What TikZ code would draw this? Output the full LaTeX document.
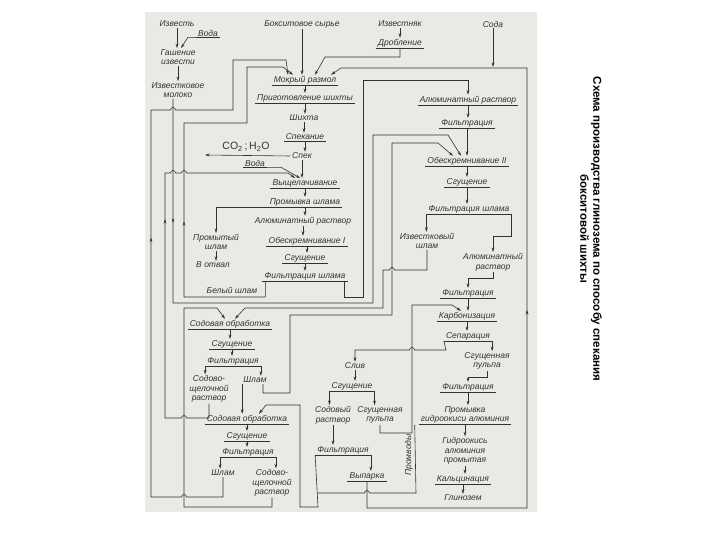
\documentclass[tikz,border=0pt]{standalone}
\usepackage{fontspec}
\newfontfamily\lbl{Liberation Sans}
\newfontfamily\ttl{Liberation Sans}
\usetikzlibrary{arrows.meta,decorations.markings}
\definecolor{ink}{RGB}{50,50,50}
\definecolor{scan}{RGB}{233,233,229}
\tikzset{
  ln/.style={draw=ink, line width=0.6pt},
  arr/.style={ln, ->},
  midarr/.style={postaction={decorate, decoration={markings, mark=at position #1 with {\arrow{>}}}}},
  lab/.style={font=\lbl\itshape\fontsize{8.5}{9.5}\selectfont, text=ink, inner xsep=2pt, inner ysep=1pt, align=center},
  ulab/.style={lab, append after command={(\tikzlastnode.south west) edge[ln] (\tikzlastnode.south east)}},
  gazlab/.style={lab, font=\lbl\fontsize{10.5}{11}\selectfont},
  ttlbox/.style={font=\ttl\bfseries\fontsize{11.5}{13}\selectfont, align=center, inner sep=0pt},
}
\begin{document}
\begin{tikzpicture}[x=1pt,y=-1pt,>={Stealth[length=4.5pt,width=2.8pt]}]
\useasboundingbox (0,0) rectangle (720,540);
\fill[scan] (145,12) rectangle (537,512);

% lime
\node[lab] (izv) at (177,24) {Известь};
\node[ulab] (voda1) at (208,33) {Вода};
\node[lab] (gash) at (178,57) {Гашение\\извести};
\node[lab] (mol) at (178,90) {Известковое\\молоко};

% main line
\node[lab] (boks) at (302,24) {Бокситовое сырье};
\node[ulab] (mr) at (305,80) {Мокрый размол};
\node[ulab] (prig) at (305,98) {Приготовление шихты};
\node[lab] (shikh) at (304,118) {Шихта};
\node[ulab] (spk) at (305,137) {Спекание};
\node[lab] (spek) at (302,156) {Спек};
\node[gazlab] (gaz) at (246,147) {CO\textsubscript{2}\,;\,H\textsubscript{2}O};
\coordinate (gazout) at (205,155);
\node[ulab] (voda2) at (255,163) {Вода};
\node[ulab] (vysh) at (305,183) {Выщелачивание};
\node[ulab] (prsh) at (305,202) {Промывка шлама};
\node[lab] (promsh) at (216,242) {Промытый\\шлам};
\node[lab] (otval) at (213,265) {В отвал};
\node[lab] (alr1) at (303,221) {Алюминатный раствор};
\node[ulab] (ob1) at (307,241) {Обескремнивание I};
\node[ulab] (sg1) at (305,258) {Сгущение};
\node[ulab] (fsh1) at (305,276) {Фильтрация шлама};
\node[lab] (bsh) at (232,290) {Белый шлам};

% soda treatment
\node[ulab] (so1) at (230,324) {Содовая обработка};
\node[ulab] (sg2) at (232,344) {Сгущение};
\node[ulab] (f2) at (233,361) {Фильтрация};
\node[lab] (ssr1) at (209,389) {Содово-\\щелочной\\раствор};
\node[lab] (shl1) at (255,380) {Шлам};
\node[ulab] (so2) at (247,419) {Содовая обработка};
\node[ulab] (sg3) at (247,436) {Сгущение};
\node[ulab] (f3) at (248,452) {Фильтрация};
\node[lab] (shl2) at (223,473) {Шлам};
\node[lab] (ssr2) at (272,483) {Содово-\\щелочной\\раствор};

% right part
\node[lab] (izvn) at (400,24) {Известняк};
\node[ulab] (drob) at (400,43) {Дробление};
\node[lab] (soda) at (493,24) {Сода};
\coordinate (sodain) at (493,67);
\node[ulab] (alr2) at (468,100) {Алюминатный раствор};
\node[ulab] (f4) at (467,123) {Фильтрация};
\node[ulab] (ob2) at (467,161) {Обескремнивание II};
\node[ulab] (sg4) at (467,182) {Сгущение};
\node[ulab] (fsh2) at (469,209) {Фильтрация шлама};
\node[lab] (ish) at (427,241) {Известковый\\шлам};
\node[lab] (alr3) at (493,262) {Алюминатный\\раствор};
\node[ulab] (f5) at (468,293) {Фильтрация};
\node[ulab] (karb) at (467,316) {Карбонизация};
\node[ulab] (sep) at (468,336) {Сепарация};
\node[lab] (sp1) at (487,361) {Сгущенная\\пульпа};
\node[lab] (sliv) at (355,366) {Слив};
\node[ulab] (sg5) at (352,386) {Сгущение};
\node[lab] (sodr) at (333,415) {Содовый\\раствор};
\node[lab] (sp2) at (380,415) {Сгущенная\\пульпа};
\node[ulab] (f6) at (468,387) {Фильтрация};
\node[ulab] (prg) at (465,415) {Промывка\\гидроокиси алюминия};
\node[lab] (gidr) at (465,451) {Гидроокись\\алюминия\\промытая};
\node[ulab] (kalc) at (463,479) {Кальцинация};
\node[lab] (gl) at (463,498) {Глинозем};
\node[ulab] (f7) at (343,450) {Фильтрация};
\node[ulab] (vyp) at (367,476) {Выпарка};
\node[lab, rotate=90] (promv) at (409,455) {Промводы};

\node[ttlbox, rotate=-90] (ttl) at (591,229) {Схема производства глинозема по способу спекания\\бокситовой шихты};

% lime
\draw[arr] (izv.south) -- (izv.south |- gash.north);
\draw[arr] (voda1.south west) -- ++(-8,0) -- ([xshift=3pt]gash.north);
\draw[arr] (gash.south) -- (gash.south |- mol.north);

% main line
\draw[arr] (boks.south) -- (boks.south |- mr.north);
\draw[arr] (mr.south) -- (mr.south |- prig.north);
\draw[arr] (prig.south) -- (prig.south |- shikh.north);
\draw[arr] (shikh.south) -- (shikh.south |- spk.north);
\draw[arr] (spk.south) -- (spk.south |- spek.north);
\draw[arr] (spek.west) -- (gazout);
\draw[arr] (spek.south) -- (spek.south |- vysh.north);
\draw[arr] (voda2.south east) -- ++(14,0) -- ([xshift=-5pt]vysh.north);
\draw[arr] (vysh.south) -- (vysh.south |- prsh.north);
\draw[arr] (prsh.south) -- (prsh.south |- alr1.north);
\draw[arr] (prsh.south) -| (promsh.north);
\draw[arr] (promsh.south) -- (promsh.south |- otval.north);
\draw[arr] (alr1.south) -- (alr1.south |- ob1.north);
\draw[arr] (ob1.south) -- (ob1.south |- sg1.north);
\draw[arr] (sg1.south) -- (sg1.south |- fsh1.north);

% white sludge to grinding
\draw[arr, midarr=173pt] ([xshift=3pt]fsh1.south west) |- (184,297) -- (184,123) -- (247,123) -- (247,67) -- (283,67) -- ([xshift=-12pt]mr.north);
% sludge of second soda treatment to grinding
\draw[arr, midarr=354pt] (shl2.south) -- (223,497) -- (186.5,497) arc[start angle=0,end angle=180,radius=2.5pt] -- (151,497) -- (151,110) -- (170.5,110) arc[start angle=180,end angle=0,radius=2.5pt] -- (233,110) -- (233,60) -- (286,60) -- ([xshift=-17pt]mr.north);
% soda-alkaline solution 1 to leaching
\draw[arr, midarr=260pt] (ssr1.south) -- (209,418) -- (186.5,418) arc[start angle=0,end angle=180,radius=2.5pt] -- (165,418) -- (165,173) -- (170.5,173) arc[start angle=180,end angle=0,radius=2.5pt] -- (181.5,173) arc[start angle=180,end angle=0,radius=2.5pt] -- (288,173) -- ([xshift=-10pt]vysh.north);
% soda-alkaline solution 2 to soda treatment 1
\draw[arr] (ssr2.south) -- (272,507) -- (184,507) -- (184,308) -- (217,308) -- ([xshift=-5pt]so1.north);
% lime milk to desilication II
\draw[arr, midarr=124pt] ([xshift=-5pt]mol.south) |- (373,303) -- (373,135) -- (448,135) -- ([xshift=-6pt]ob2.north);
% aluminate solution to the right
\draw[arr] ([xshift=-3pt]fsh1.south east) |- (363,297) -- (363,80) -| (alr2.north);
% lime sludge to soda treatment 1
\draw[arr] (ish.south) -- (427,270) -- (394.5,270) arc[start angle=0,end angle=180,radius=2.5pt] -- (383,270) -- (383,308) -- (245,308) -- ([xshift=5pt]so1.north);
% sludge 1
\draw[arr] ([xshift=8pt]shl1.south) |- (290,393) -- (290,315) -- (392,315) -- (392,143) -- (438,143) -- ([xshift=-14pt]ob2.north);
\draw[arr] ([xshift=1pt]shl1.south west) -- ([xshift=1pt]shl1.south west |- so2.north);

% soda treatment
\draw[arr] (so1.south) -- (so1.south |- sg2.north);
\draw[arr] (sg2.south) -- (sg2.south |- f2.north);
\draw[arr] (f2.south west) -- (f2.south west |- ssr1.north);
\draw[arr] (f2.south east) -- (f2.south east |- shl1.north);
\draw[arr] (so2.south) -- (so2.south |- sg3.north);
\draw[arr] (sg3.south) -- (sg3.south |- f3.north);
\draw[arr] (f3.south west) -- (f3.south west |- shl2.north);
\draw[arr] (f3.south east) -- (f3.south east |- ssr2.north);

% limestone, soda, return
\draw[arr] (izvn.south) -- (izvn.south |- drob.north);
\draw[arr] (drob.south) |- (325,57) -- ([xshift=10pt]mr.north);
\draw[arr] (soda.south) -- (sodain);
\draw[arr, midarr=385pt] (vyp.south) -- (367,508) -- (527,508) -- (527,68) -- (341,68) -- ([xshift=26pt]mr.north);

% right column
\draw[arr] (alr2.south) -- (alr2.south |- f4.north);
\draw[arr] (f4.south) -- (f4.south |- ob2.north);
\draw[arr] (ob2.south) -- (ob2.south |- sg4.north);
\draw[arr] (sg4.south) -- (sg4.south |- fsh2.north);
\draw[arr] (fsh2.south west) -- (fsh2.south west |- ish.north);
\draw[arr] (fsh2.south east) -- ++(0,22) -| (alr3.north);
\draw[arr] (alr3.south) -- ++(0,6) -| (f5.north);
\draw[arr] (f5.south) -- (f5.south |- karb.north);
\draw[arr] (karb.south) -- (karb.south |- sep.north);
\draw[arr] (sep.south east) -- (sep.south east |- sp1.north);
\draw[arr] (sep.south west) -- (446,350) -- (414.5,350) arc[start angle=0,end angle=180,radius=2.5pt] -| (sliv.north);
\draw[arr] (sliv.south) -- (sliv.south |- sg5.north);
\draw[arr] (sg5.south west) -- (sg5.south west |- sodr.north);
\draw[arr] (sg5.south east) -- (sg5.south east |- sp2.north);
\draw[arr] (sp2.south) |- (412,433) -- (412,305) -- (452,305) -- ([xshift=-6pt]karb.north);
\draw[arr] (sp1.south) -- ++(0,6) -| (f6.north);
\draw[arr] (f6.south) -- (f6.south |- prg.north);
\draw[arr] (prg.south) -- (prg.south |- gidr.north);
\draw[arr] (gidr.south) -- (gidr.south |- kalc.north);
\draw[arr] (kalc.south) -- (kalc.south |- gl.north);

% soda solution
\draw[arr] (sodr.south) -- (sodr.south |- f7.north);
\draw[arr] (f7.south east) -- (f7.south east |- vyp.north);
\draw[arr] (f7.south west) -- (318,507) -- (300,507) -- (300,405) -- (266,405) -- ([xshift=12pt]so2.north);
\draw[ln] ([xshift=-4pt]prg.south west) -- (416,493) -- (369.5,493) arc[start angle=0,end angle=180,radius=2.5pt] -- (318,493);
\end{tikzpicture}
\end{document}
